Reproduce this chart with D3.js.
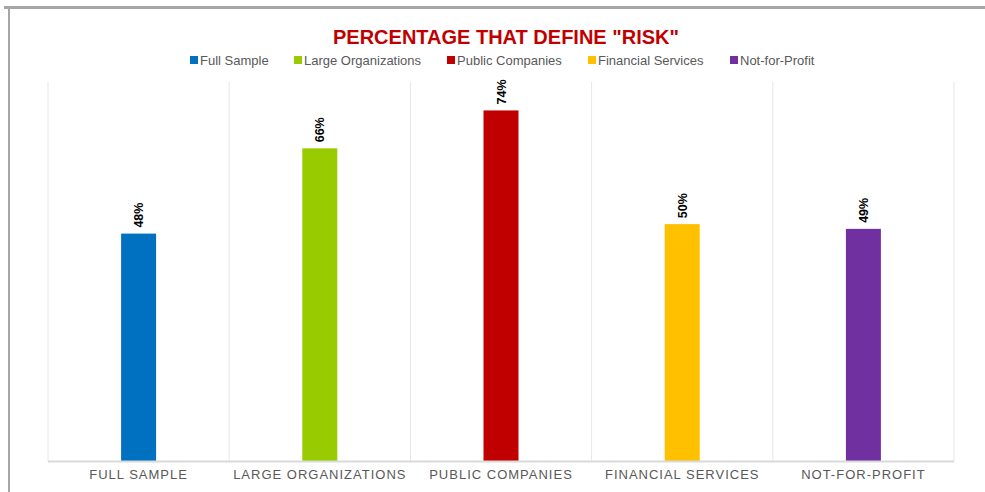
<!DOCTYPE html>
<html>
<head>
<meta charset="utf-8">
<script src="https://cdn.jsdelivr.net/npm/d3@7"></script>
<style>
html,body{margin:0;padding:0;background:#fff;}
svg{display:block;font-family:"Liberation Sans",Arial,sans-serif;}
</style>
</head>
<body>
<svg id="chart" width="985" height="492"></svg>
<script>
const categories = ["Full Sample","Large Organizations","Public Companies","Financial Services","Not-for-Profit"];
const tickLabels = ["FULL SAMPLE","LARGE ORGANIZATIONS","PUBLIC COMPANIES","FINANCIAL SERVICES","NOT-FOR-PROFIT"];
const values = [48,66,74,50,49];
const colors = ["#0070c0","#99cc00","#c00000","#ffc000","#7030a0"];
const titleText = 'PERCENTAGE THAT DEFINE "RISK"';

const svg = d3.select("#chart");
const W = 985, H = 492;
const m = {left:48, right:31, top:82, bottom:31};

// frame borders
svg.append("rect").attr("x",4).attr("y",6).attr("width",W).attr("height",3).attr("fill","#a6a6a6");
svg.append("rect").attr("x",8).attr("y",6).attr("width",2).attr("height",H).attr("fill","#a6a6a6");

const x = d3.scaleBand().domain(categories).range([m.left, W-m.right]).paddingInner(0).paddingOuter(0);
const y = d3.scaleLinear().domain([0,80]).range([H-m.bottom, m.top]);

// vertical gridlines at band boundaries
const bounds = categories.map(c => x(c)).concat([x(categories[categories.length-1]) + x.bandwidth()]);
svg.append("g").selectAll("line").data(bounds).join("line")
  .attr("x1",d=>d).attr("x2",d=>d)
  .attr("y1",y(80)).attr("y2",y(0))
  .attr("stroke","#e6e6e6").attr("stroke-width",1);

// bars
const barW = 35;
svg.append("g").selectAll("rect").data(values).join("rect")
  .attr("x",(d,i)=>x(categories[i]) + x.bandwidth()/2 - barW/2)
  .attr("width",barW)
  .attr("y",d=>y(d))
  .attr("height",d=>y(0)-y(d))
  .attr("fill",(d,i)=>colors[i]);

// baseline
svg.append("line").attr("x1",m.left).attr("x2",W-m.right)
  .attr("y1",y(0)+0.5).attr("y2",y(0)+0.5)
  .attr("stroke","#d9d9d9").attr("stroke-width",2);

// value labels (rotated)
svg.append("g").selectAll("text").data(values).join("text")
  .attr("transform",(d,i)=>`translate(${x(categories[i]) + x.bandwidth()/2 + 4.5},${y(d)-6}) rotate(-90)`)
  .attr("text-anchor","start")
  .attr("font-size","12.5px").attr("font-weight","bold").attr("fill","#000")
  .text(d=>d+"%");

// x axis
const xAxis = d3.axisBottom(x).tickSize(0).tickPadding(0).tickFormat((d,i)=>tickLabels[i]);
const gx = svg.append("g").attr("transform",`translate(0,${y(0)})`).call(xAxis);
gx.select(".domain").remove();
gx.selectAll("text")
  .attr("y",13).attr("dy","0.35em")
  .attr("font-family","'Liberation Sans',Arial,sans-serif")
  .attr("font-size","13px").attr("fill","#595959")
  .attr("letter-spacing","1px");

// title
svg.append("text").attr("x",506).attr("y",44).attr("text-anchor","middle")
  .attr("font-size","20px").attr("font-weight","bold").attr("fill","#c00000")
  .text(titleText);

// legend
const legendX = [190,294,447,588,730];
const lg = svg.append("g").selectAll("g").data(categories).join("g")
  .attr("transform",(d,i)=>`translate(${legendX[i]},60)`);
lg.append("rect").attr("x",0).attr("y",-4).attr("width",8).attr("height",8).attr("fill",(d,i)=>colors[i]);
lg.append("text").attr("x",10).attr("y",0).attr("dy","0.35em")
  .attr("font-size","13px").attr("fill","#595959").text(d=>d);
</script>
</body>
</html>
